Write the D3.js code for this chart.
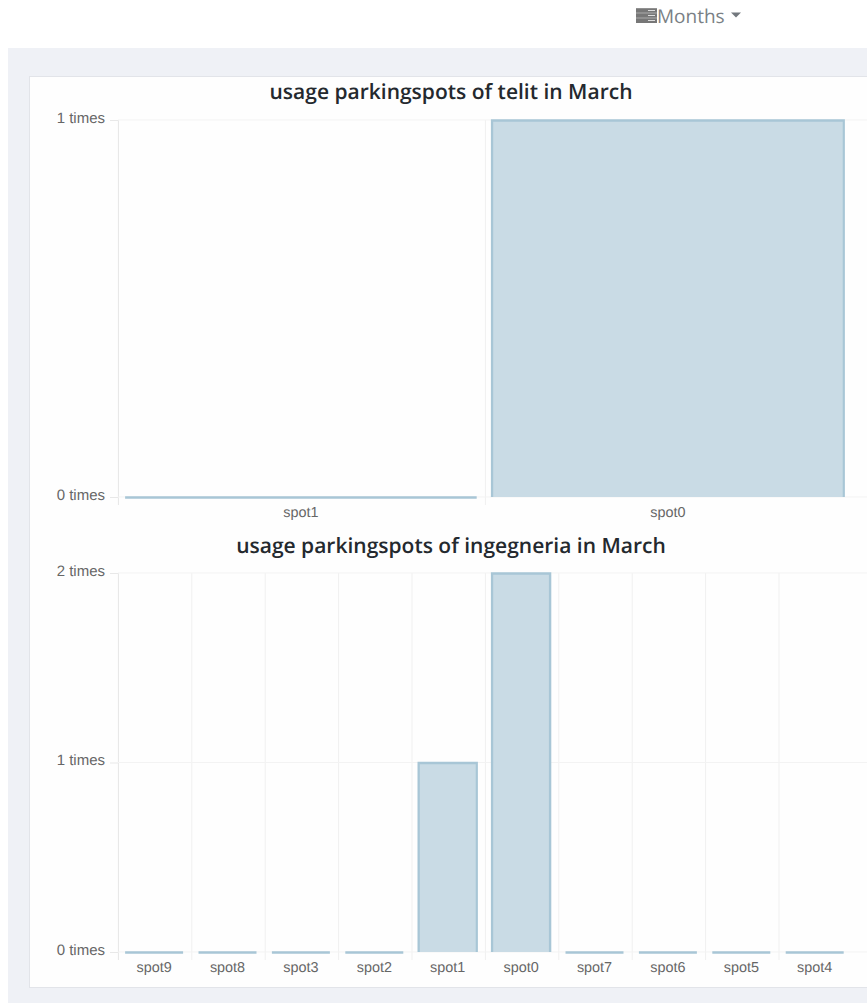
<!DOCTYPE html>
<html><head><meta charset="utf-8">
<script src="https://d3js.org/d3.v7.min.js"></script>
<style>
html,body{margin:0;padding:0;background:#fff;overflow:hidden}
svg{display:block}
text{text-rendering:geometricPrecision}
</style></head><body><svg id="c" width="867" height="1003"></svg>
<script>
const dropdownLabel = "Months";
const title1 = "usage parkingspots of telit in March";
const categories1 = ["spot1","spot0"];
const values1 = [0,1];
const ticks1 = [0,1];
const title2 = "usage parkingspots of ingegneria in March";
const categories2 = ["spot9","spot8","spot3","spot2","spot1","spot0","spot7","spot6","spot5","spot4"];
const values2 = [0,0,0,0,1,2,0,0,0,0];
const ticks2 = [0,1,2];
const suffix = " times";

const svg = d3.select("#c");
svg.append("rect").attr("x",8).attr("y",48).attr("width",859).attr("height",955).attr("fill","#eff1f6");
svg.append("rect").attr("x",29.5).attr("y",76.5).attr("width",840).attr("height",911).attr("fill","#fefefe").attr("stroke","#e2e4e9");

// dropdown
const ic = svg.append("g").attr("fill","#777");
[[8.2,4.6],[13.2,4.6],[18.2,4.8]].forEach(([y,h])=>{
  ic.append("rect").attr("x",636).attr("y",y).attr("width",21).attr("height",h);
  ic.append("rect").attr("x",648).attr("y",y+1.8).attr("width",7).attr("height",1).attr("fill","#ddd");
});
svg.append("text").attr("x",657).attr("y",23).attr("font-family","'Open Sans'").attr("font-size",19).attr("fill","#7a7f85").text(dropdownLabel);
svg.append("path").attr("d","M731 12.5h10l-5 5z").attr("fill","#73787e");

function chart(title,titleY,cats,vals,ticks,top,bottom,widthFrac,labelY){
  const x = d3.scaleBand().domain(cats).range([118.4,852.4]);
  const y = d3.scaleLinear().domain([0,d3.max(ticks)]).range([bottom,top]);
  const g = svg.append("g");
  // vertical grid
  const edges = cats.map(c=>x(c));
  g.selectAll(".v").data(edges).join("line")
    .attr("x1",d=>d).attr("x2",d=>d).attr("y1",top).attr("y2",bottom+8)
    .attr("stroke",(d,i)=>i===0?"#e6e6e6":"#f0f0f0");
  // y axis
  const ya = d3.axisLeft(y).tickValues(ticks).tickFormat(d=>d+suffix).tickSize(8).tickPadding(5);
  const ga = g.append("g").attr("transform","translate(118,0)").call(ya);
  ga.select(".domain").remove();
  ga.selectAll("line").attr("stroke","#e8e8e8");
  ga.selectAll("text").attr("dy","0.16em").attr("font-family","'Liberation Sans'").attr("font-size",15).attr("fill","#666");
  // horizontal grid
  g.selectAll(".h").data(ticks).join("line")
    .attr("x1",118).attr("x2",867).attr("y1",d=>y(d)).attr("y2",d=>y(d))
    .attr("stroke","#f3f3f3");
  // bars
  const bw = x.bandwidth()*widthFrac;
  const cx = d => x(d)+x.bandwidth()/2-1;
  g.selectAll(".b").data(cats).join("rect")
    .attr("x",d=>cx(d)-bw/2+1)
    .attr("width",bw-2)
    .attr("y",(d,i)=>y(vals[i])+1)
    .attr("height",(d,i)=>Math.max(0,y(0)-y(vals[i])-1))
    .attr("fill","#c9dbe5");
  g.selectAll(".s").data(cats).join("path")
    .attr("d",(d,i)=>{
      const l=cx(d)-bw/2, r=l+bw, t=y(vals[i])+.5, b=y(0);
      return vals[i]===0 ? `M${l} ${b+.5}H${r}` : `M${l} ${b}V${t}H${r}V${b}`;
    })
    .attr("fill","none").attr("stroke","#a8c6d6").attr("stroke-width",2.4);
  // x labels
  g.selectAll(".l").data(cats).join("text")
    .attr("x",d=>cx(d)).attr("y",labelY)
    .attr("text-anchor","middle").attr("font-family","'Liberation Sans'").attr("font-size",14.4).attr("fill","#666").text(d=>d);
  svg.append("text").attr("x",451).attr("y",titleY).attr("text-anchor","middle")
    .attr("font-family","'Open Sans'").attr("font-weight",600).attr("font-size",21).attr("fill","#24292e").text(title);
}
chart(title1,99,categories1,values1,ticks1,120,497,0.958,517);
chart(title2,553,categories2,values2,ticks2,573,952,0.79,972);
</script></body></html>
